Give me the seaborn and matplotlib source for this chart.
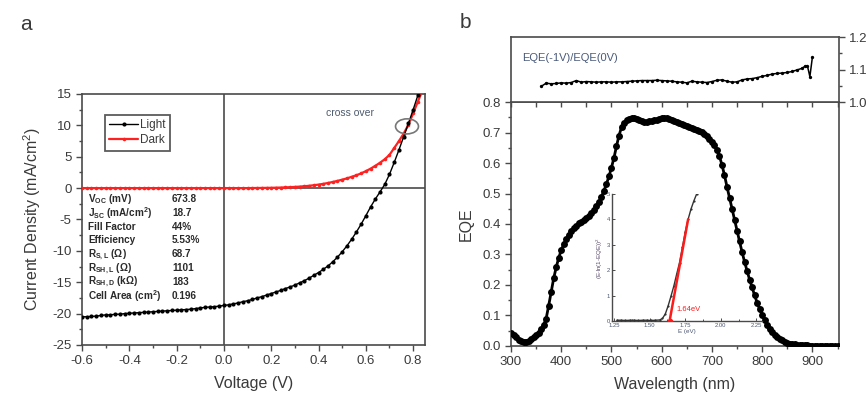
import numpy as np
import pandas as pd
import seaborn as sns
import matplotlib
matplotlib.use("Agg")
import matplotlib.pyplot as plt
from matplotlib.patches import Ellipse
from matplotlib.ticker import MultipleLocator, FixedLocator, FormatStrFormatter

# ---------------- data: J-V characteristics ----------------
voltage_light = np.round(np.arange(-0.60, 0.821, 0.02), 2)
j_light = [
    -20.5, -20.5, -20.45, -20.4, -20.3, -20.2, -20.2, -20.1, -20.1, -20.0,
    -19.95, -19.9, -19.85, -19.8, -19.75, -19.7, -19.65, -19.6, -19.55, -19.5,
    -19.45, -19.4, -19.35, -19.3, -19.2, -19.1, -19.0, -18.95, -18.9, -18.8,
    -18.7, -18.6, -18.45, -18.3, -18.1, -17.95, -17.75, -17.5, -17.3, -17.05,
    -16.8, -16.55, -16.3, -16.0, -15.75, -15.45, -15.1, -14.75, -14.35, -13.9,
    -13.45, -12.95, -12.4, -11.75, -11.0, -10.15, -9.2, -8.15, -7.0, -5.75,
    -4.4, -3.0, -1.75, -0.6, 0.6, 2.2, 4.1, 6.1, 8.2, 10.3,
    12.5, 14.8,
]
voltage_dark = np.round(np.arange(-0.60, 0.841, 0.02), 2)
j_dark = [0.0] * 36 + [
    0.01, 0.02, 0.03, 0.04, 0.05, 0.07, 0.09, 0.12, 0.15, 0.19,
    0.24, 0.30, 0.37, 0.46, 0.56, 0.68, 0.82, 0.98, 1.15, 1.35,
    1.55, 1.8, 2.05, 2.35, 2.7, 3.1, 3.55, 4.05, 4.6, 5.3,
    6.4, 7.5, 8.7, 10.1, 11.9, 13.8, 15.6,
]

param_names = [r"V$_{OC}$ (mV)", r"J$_{SC}$ (mA/cm$^2$)", "Fill Factor", "Efficiency",
               r"R$_{S,L}$ ($\Omega$)", r"R$_{SH,L}$ ($\Omega$)", r"R$_{SH,D}$ (k$\Omega$)",
               r"Cell Area (cm$^2$)"]
param_values = ["673.8", "18.7", "44%", "5.53%", "68.7", "1101", "183", "0.196"]

# ---------------- data: EQE spectrum ----------------
wavelength = np.arange(300, 951, 5)
eqe = [
    0.043, 0.036, 0.028, 0.021, 0.016, 0.013, 0.013, 0.017, 0.023, 0.029,
    0.035, 0.044, 0.055, 0.069, 0.090, 0.132, 0.178, 0.222, 0.258, 0.289,
    0.314, 0.334, 0.350, 0.364, 0.376, 0.387, 0.395, 0.402, 0.408, 0.413,
    0.419, 0.427, 0.436, 0.446, 0.458, 0.472, 0.489, 0.509, 0.531, 0.556,
    0.585, 0.617, 0.655, 0.690, 0.717, 0.732, 0.740, 0.744, 0.746, 0.748,
    0.745, 0.740, 0.737, 0.736, 0.736, 0.737, 0.738, 0.740, 0.742, 0.744,
    0.746, 0.747, 0.746, 0.744, 0.742, 0.739, 0.735, 0.731, 0.727, 0.723,
    0.720, 0.717, 0.714, 0.712, 0.709, 0.705, 0.701, 0.696, 0.689, 0.680,
    0.670, 0.658, 0.643, 0.622, 0.594, 0.560, 0.522, 0.486, 0.450, 0.414,
    0.378, 0.343, 0.308, 0.276, 0.246, 0.218, 0.192, 0.166, 0.142, 0.121,
    0.102, 0.085, 0.070, 0.057, 0.046, 0.037, 0.029, 0.023, 0.018, 0.014,
    0.011, 0.008, 0.006, 0.005, 0.004, 0.003, 0.002, 0.002, 0.002, 0.001,
    0.001, 0.001, 0.001, 0.001, 0.001, 0.001, 0.001, 0.001, 0.001, 0.001,
    0.001,
]

ratio_wavelength = list(range(360, 881, 10)) + [885, 890, 895, 900]
ratio = [
    1.048, 1.058, 1.056, 1.057, 1.059, 1.058, 1.060, 1.066, 1.061, 1.063,
    1.062, 1.061, 1.062, 1.062, 1.061, 1.062, 1.062, 1.063, 1.064, 1.065,
    1.066, 1.066, 1.066, 1.067, 1.066, 1.065, 1.064, 1.062, 1.061, 1.059,
    1.064, 1.062, 1.061, 1.060, 1.063, 1.067, 1.068, 1.064, 1.061, 1.062,
    1.068, 1.071, 1.072, 1.075, 1.079, 1.082, 1.086, 1.088, 1.089, 1.091,
    1.094, 1.099, 1.104, 1.110, 1.112, 1.078, 1.138,
]

# Tauc-style band-gap inset
photon_energy = [1.27, 1.30, 1.33, 1.36, 1.39, 1.42, 1.45, 1.48, 1.51, 1.54, 1.57, 1.59,
                 1.61, 1.63, 1.65, 1.67, 1.69, 1.71, 1.73, 1.75, 1.77, 1.79, 1.81, 1.83]
tauc_signal = [0.03, 0.03, 0.02, 0.03, 0.03, 0.02, 0.03, 0.03, 0.02, 0.03, 0.04, 0.10,
               0.28, 0.60, 0.98, 1.38, 1.85, 2.30, 2.90, 3.50, 4.00, 4.40, 4.72, 5.00]
fit_energy = [1.64, 1.77]
fit_signal = [0.0, 4.0]
band_gap = 1.64

# ---------------- style ----------------
sns.set_theme(style="ticks")
plt.rcParams["font.family"] = ["Liberation Sans", "DejaVu Sans"]
plt.rcParams["mathtext.default"] = "regular"
plt.rcParams["axes.unicode_minus"] = False
SPINE = "#4a4a4a"
TXT = "#3a3a3a"

fig = plt.figure(figsize=(8.68, 4.01), dpi=100)
fig.patch.set_facecolor("white")

def style_axes(ax):
    for s in ax.spines.values():
        s.set_color(SPINE)
        s.set_linewidth(1.2)
    ax.tick_params(which="both", direction="out", color=SPINE, labelcolor=TXT,
                   labelsize=9.5, width=1.0)
    ax.tick_params(which="major", length=4)
    ax.tick_params(which="minor", length=2.5)

# ---------------- panel a ----------------
axA = fig.add_axes([0.0945, 0.1397, 0.3951, 0.6259])
style_axes(axA)
axA.axhline(0, color=SPINE, lw=1.2, zorder=1)
axA.axvline(0, color=SPINE, lw=1.2, zorder=1)

df_light = pd.DataFrame({"V": voltage_light, "J": j_light})
df_dark = pd.DataFrame({"V": voltage_dark, "J": j_dark})
sns.lineplot(data=df_dark, x="V", y="J", ax=axA, color="#ff2020", lw=1.6,
             marker="o", markersize=2.6, markeredgewidth=0, label="Dark", zorder=3)
sns.lineplot(data=df_light, x="V", y="J", ax=axA, color="black", lw=1.0,
             marker="o", markersize=3.0, markeredgewidth=0, label="Light", zorder=4)

axA.set_xlim(-0.6, 0.85)
axA.set_ylim(-25, 15)
axA.xaxis.set_major_locator(MultipleLocator(0.2))
axA.xaxis.set_minor_locator(MultipleLocator(0.1))
axA.yaxis.set_major_locator(MultipleLocator(5))
axA.yaxis.set_minor_locator(MultipleLocator(2.5))
axA.xaxis.set_major_formatter(FormatStrFormatter("%.1f"))
axA.set_xlabel("Voltage (V)", fontsize=11.5, color=TXT, labelpad=6)
axA.set_ylabel(r"Current Density (mA/cm$^2$)", fontsize=11.5, color=TXT, labelpad=7)

handles, labels = axA.get_legend_handles_labels()
order = [labels.index("Light"), labels.index("Dark")]
leg = axA.legend([handles[i] for i in order], [labels[i] for i in order],
                 loc="upper left", bbox_to_anchor=(0.066, 0.918), fontsize=8.5,
                 frameon=True, fancybox=False, edgecolor="#333333", handlelength=2.4,
                 handletextpad=0.2, borderpad=0.4, labelspacing=0.25,
                 borderaxespad=0)
leg.get_frame().set_linewidth(1.3)
for t in leg.get_texts():
    t.set_color(TXT)

axA.add_patch(Ellipse((0.774, 9.84), 0.097, 2.4, fill=False, ec="#777777", lw=1.2, zorder=5))
axA.text(0.433, 11.9, "cross over", fontsize=7.5, color="#4d5a6e", va="center", ha="left")

row_y0, row_step = 0.582, 0.0552
for i, (name, val) in enumerate(zip(param_names, param_values)):
    y = row_y0 - i * row_step
    axA.text(0.0175, y, name, transform=axA.transAxes, fontsize=7.2, fontweight="bold",
             color="#2a2a2a", va="center", ha="left")
    axA.text(0.262, y, val, transform=axA.transAxes, fontsize=7.2, fontweight="bold",
             color="#2a2a2a", va="center", ha="left")

fig.text(0.023, 0.938, "a", fontsize=15, color=TXT, va="center", ha="left")

# ---------------- panel b: EQE ----------------
axB = fig.add_axes([0.5887, 0.1372, 0.3779, 0.6084])
style_axes(axB)
df_eqe = pd.DataFrame({"wavelength": wavelength, "EQE": eqe})
sns.lineplot(data=df_eqe, x="wavelength", y="EQE", ax=axB, color="black", lw=2.0,
             marker="o", markersize=5.0, markeredgewidth=0, zorder=4)
axB.set_xlim(300, 953)
axB.set_ylim(0, 0.8)
axB.xaxis.set_major_locator(MultipleLocator(100))
axB.xaxis.set_minor_locator(MultipleLocator(50))
axB.yaxis.set_major_locator(MultipleLocator(0.1))
axB.yaxis.set_minor_locator(MultipleLocator(0.05))
axB.yaxis.set_major_formatter(FormatStrFormatter("%.1f"))
axB.set_xlabel("Wavelength (nm)", fontsize=11.5, color=TXT, labelpad=6)
axB.set_ylabel("EQE", fontsize=11.5, color=TXT, labelpad=6)

# bias ratio strip above the EQE panel
axT = fig.add_axes([0.5887, 0.7456, 0.3779, 0.1621])
style_axes(axT)
df_ratio = pd.DataFrame({"wavelength": ratio_wavelength, "ratio": ratio})
sns.lineplot(data=df_ratio, x="wavelength", y="ratio", ax=axT, color="black", lw=1.1,
             marker="o", markersize=2.4, markeredgewidth=0, sort=False)
axT.set_xlim(300, 953)
axT.set_ylim(1.0, 1.2)
axT.yaxis.tick_right()
axT.yaxis.set_major_locator(FixedLocator([1.0, 1.1, 1.2]))
axT.yaxis.set_minor_locator(FixedLocator([1.05, 1.15]))
axT.yaxis.set_major_formatter(FormatStrFormatter("%.1f"))
axT.xaxis.set_major_locator(MultipleLocator(50))
axT.xaxis.set_minor_locator(FixedLocator([]))
axT.tick_params(axis="x", labelbottom=False, length=3.5)
axT.set_xlabel("")
axT.set_ylabel("")
axT.text(0.035, 0.67, "EQE(-1V)/EQE(0V)", transform=axT.transAxes, fontsize=8,
         color="#4a5a7a", va="center", ha="left")

fig.text(0.530, 0.943, "b", fontsize=15, color=TXT, va="center", ha="left")

# band-gap inset
axI = fig.add_axes([0.705, 0.1995, 0.173, 0.3167])
axI.set_facecolor("none")
for side in ("top", "right"):
    axI.spines[side].set_visible(False)
for side in ("left", "bottom"):
    axI.spines[side].set_color(SPINE)
    axI.spines[side].set_linewidth(1.0)
df_tauc = pd.DataFrame({"E": photon_energy, "signal": tauc_signal})
sns.lineplot(data=df_tauc, x="E", y="signal", ax=axI, color="#333333", lw=1.0,
             marker="o", markersize=1.6, markeredgewidth=0, zorder=3)
axI.plot(fit_energy, fit_signal, color="#ff1a1a", lw=1.8, zorder=4,
         marker="o", markersize=3, markevery=[0])
axI.text(band_gap + 0.05, 0.45, f"{band_gap:.2f}eV", color="#ff1a1a", fontsize=5.5,
         va="center", ha="left")
axI.set_xlim(1.235, 2.29)
axI.set_ylim(0, 5)
axI.xaxis.set_major_locator(FixedLocator([1.25, 1.50, 1.75, 2.00, 2.25]))
axI.xaxis.set_minor_locator(MultipleLocator(0.125))
axI.xaxis.set_major_formatter(FormatStrFormatter("%.2f"))
axI.yaxis.set_major_locator(MultipleLocator(1))
axI.tick_params(which="both", direction="in", color=SPINE, labelcolor="#4a5570",
                labelsize=4.2, width=0.7, pad=1.5)
axI.tick_params(which="major", length=2.5)
axI.tick_params(which="minor", length=1.5)
axI.set_xlabel("E (eV)", fontsize=4.5, color="#4a5570", labelpad=0.5)
axI.set_ylabel(r"(E$\cdot$ln(1-EQE))$^2$", fontsize=4.5, color="#5a4a6a", labelpad=1)

fig.savefig("out.png", dpi=100, facecolor="white")
